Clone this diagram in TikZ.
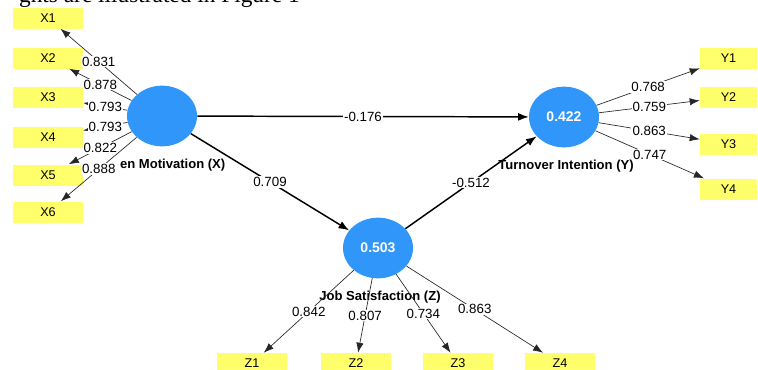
\documentclass[tikz,border=0pt]{standalone}
\usepackage{fontspec}
\setmainfont{Liberation Serif}
\setsansfont{Liberation Sans}
\usepackage{tikz}
\usetikzlibrary{positioning, shapes.geometric, arrows.meta, calc}
\definecolor{indyellow}{rgb}{1, 1, 0.42}
\definecolor{latentblue}{rgb}{0.19, 0.59, 0.98}

\tikzset{
	indicator/.style={fill=indyellow, draw=none, minimum width=52.5pt, minimum height=15.75pt, inner sep=0pt, font=\sffamily\fontsize{9.5}{9.5}\selectfont},
	latent/.style={ellipse, fill=latentblue, draw=none, minimum width=52.5pt, minimum height=45.5pt, inner sep=0pt, text=white, font=\sffamily\bfseries\fontsize{10.5}{10}\selectfont},
	loading/.style={-{Latex[length=7.5pt,width=5.5pt]}, draw=black!85, line width=0.5pt},
	structural/.style={-{Latex[length=8pt,width=6pt]}, line width=1.1pt},
	coef/.style={fill=white, inner sep=0.8pt, font=\sffamily\fontsize{10}{10}\selectfont},
	lvname/.style={font=\sffamily\bfseries\fontsize{9.8}{10}\selectfont}
}

\begin{document}
\begin{tikzpicture}[x=0.75pt, y=-0.75pt]
				\useasboundingbox (0,0) rectangle (758,369);
				\clip (0,0) rectangle (758,369);
				
				\node[anchor=base east, inner sep=0pt, font=\fontsize{17.5}{17.5}\selectfont] (intro) at (300,2.5) {ghts are illustrated in Figure 1};
				
				% latent variables
				\node[latent] (gm) at (162,116) {};
				\node[latent] (ti) at (564,117) {0.422};
				\node[latent] (js) at (378,248) {0.503};
				\node[lvname, anchor=east] (gmname) at (230,165) {en Motivation (X)};
				\node[lvname] (tiname) at (566,166) {Turnover Intention (Y)};
				\node[lvname] (jsname) at (380,297) {Job Satisfaction (Z)};
				
				% indicators
				\foreach \i/\y in {1/18, 2/58, 3/97, 4/137, 5/175, 6/212}
					\node[indicator] (x\i) at (48,\y) {X\i};
				\foreach \i/\y in {1/58, 2/97, 3/144, 4/189}
					\node[indicator, minimum width=42.75pt] (y\i) at (728.5,\y) {Y\i};
				\foreach \i/\x in {1/252, 2/356, 3/458, 4/560}
					\node[indicator] (z\i) at (\x,363.5) {Z\i};
				
				% outer loadings
				\foreach \i/\v in {1/0.831, 2/0.878, 3/0.793, 4/0.793, 5/0.822, 6/0.888}
					\draw[loading] (gm) -- node[coef] {\v} (x\i);
				\foreach \i/\v in {1/0.768, 2/0.759, 3/0.863, 4/0.747}
					\draw[loading] (ti) -- node[coef] {\v} (y\i);
				\foreach \i/\v in {1/0.842, 2/0.807, 3/0.734, 4/0.863}
					\draw[loading] (js) -- node[coef] {\v} (z\i);
				
				% path coefficients
				\draw[structural] (gm) -- node[coef] {-0.176} (ti);
				\draw[structural] (gm) -- node[coef] {0.709} (js);
				\draw[structural] (js) -- node[coef] {-0.512} (ti);
\end{tikzpicture}
\end{document}
